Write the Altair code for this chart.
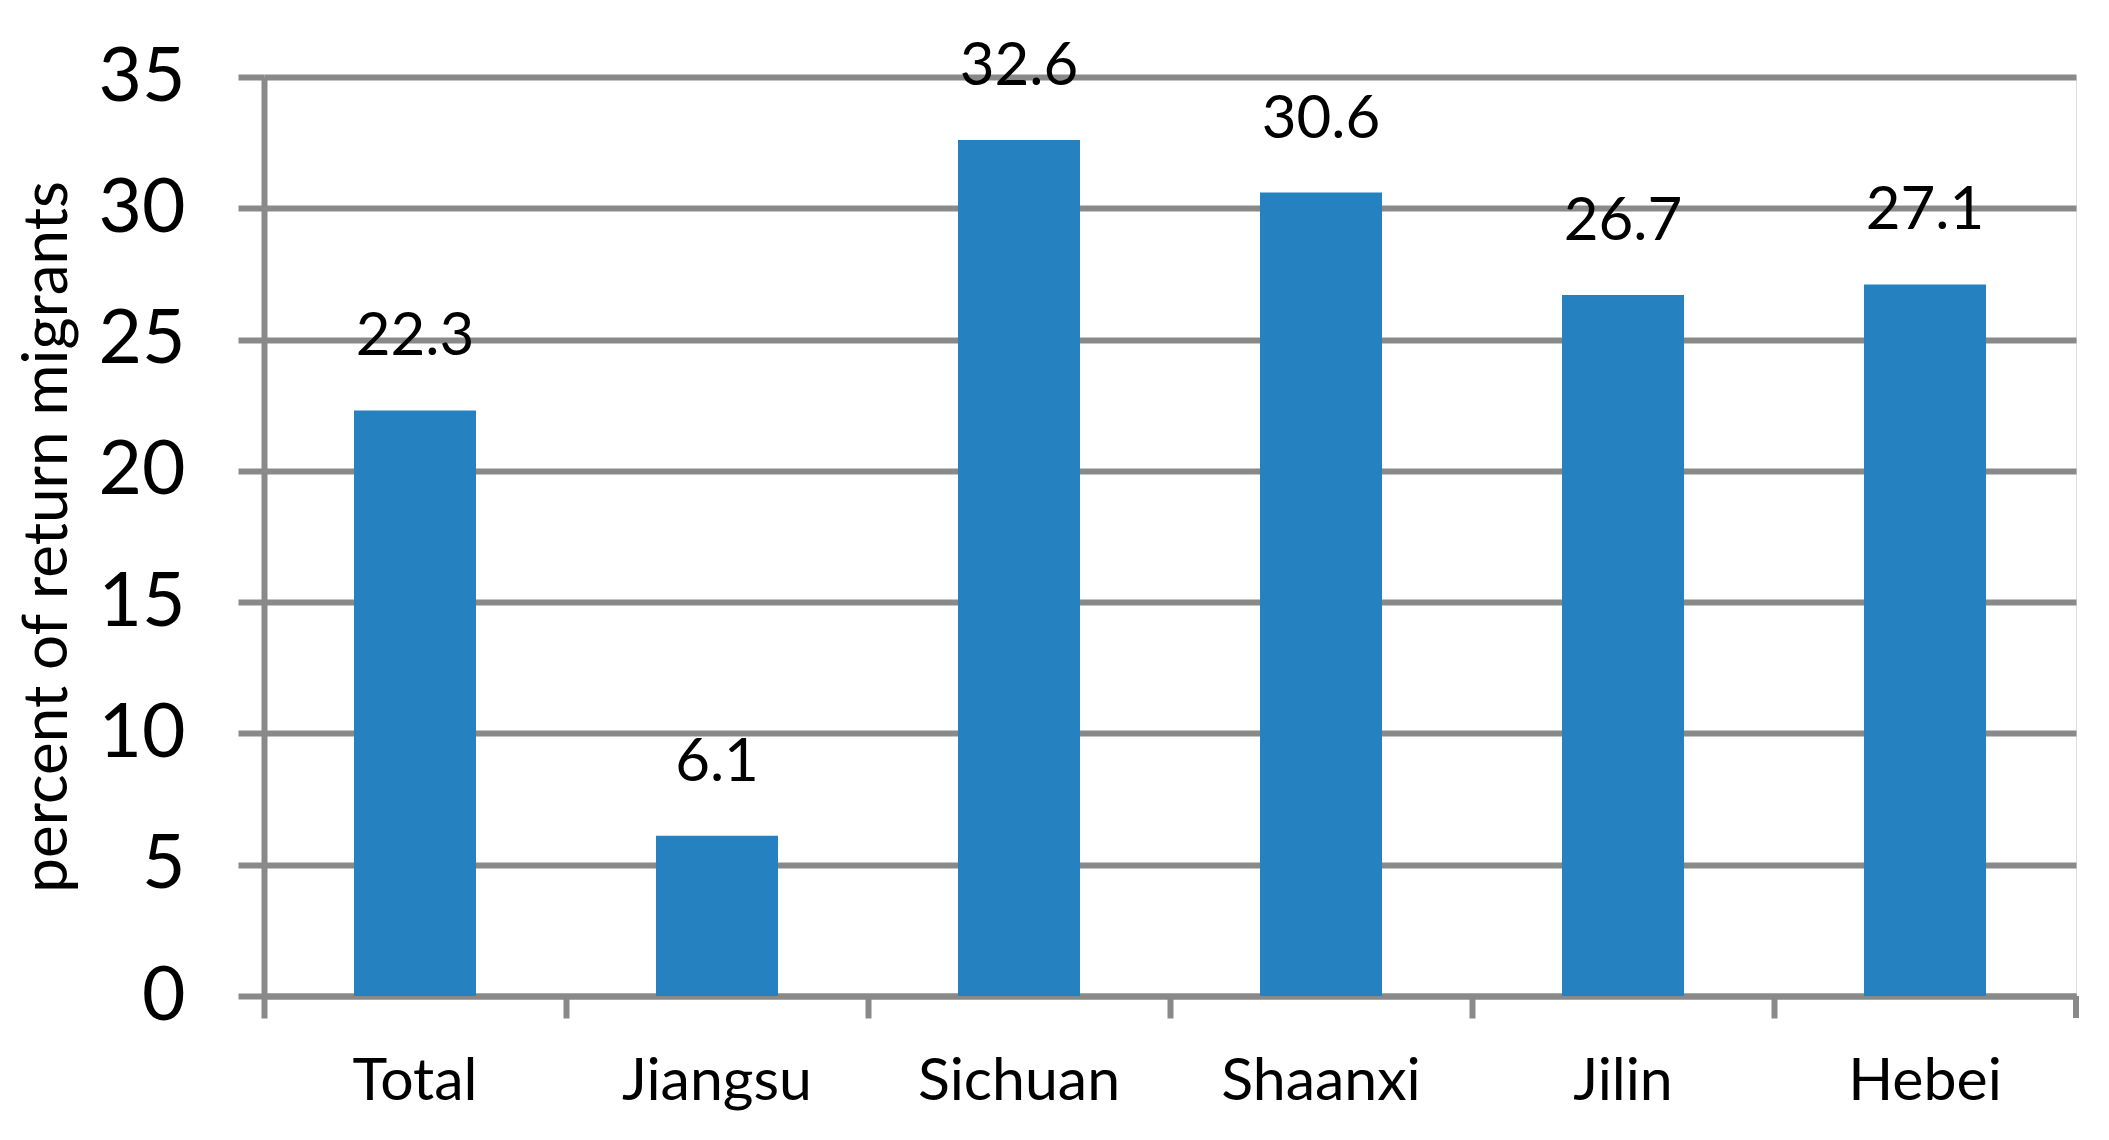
import altair as alt
import pandas as pd

categories = ["Total", "Jiangsu", "Sichuan", "Shaanxi", "Jilin", "Hebei"]
values = [22.3, 6.1, 32.6, 30.6, 26.7, 27.1]
y_ticks = [0, 5, 10, 15, 20, 25, 30, 35]

df = pd.DataFrame({"region": categories, "pct": values})

W, H = 1812, 919
GRAY = "#898989"
FONT = "Lato"

x_enc = alt.X(
    "region:N",
    sort=categories,
    scale=alt.Scale(paddingInner=0, paddingOuter=0),
    axis=alt.Axis(
        title=None,
        labelAngle=0,
        labelFont=FONT,
        labelFontSize=59,
        labelColor="black",
        labelPadding=34,
        labelLimit=0,
        bandPosition=0,
        tickSize=22,
        tickWidth=6,
        tickColor=GRAY,
        domainColor=GRAY,
        domainWidth=6,
        grid=False,
    ),
)

y_enc = alt.Y(
    "pct:Q",
    scale=alt.Scale(domain=[0, 35], nice=False),
    axis=alt.Axis(
        title="percent of return migrants",
        values=y_ticks,
        titleFont=FONT,
        titleFontSize=62,
        titleFontWeight="normal",
        titleColor="black",
        titleAngle=-90,
        titleAlign="center",
        titleBaseline="alphabetic",
        titleX=-198,
        titleY=H / 2,
        labelFont=FONT,
        labelFontSize=75,
        labelColor="black",
        labelPadding=53,
        tickSize=26,
        tickWidth=6,
        tickColor=GRAY,
        domainColor=GRAY,
        domainWidth=6,
        grid=True,
        gridColor=GRAY,
        gridWidth=6,
    ),
)

bars = alt.Chart(df).mark_bar(
    color="#2581C0", width=alt.RelativeBandSize(0.404)
).encode(x=x_enc, y=y_enc)

labels = alt.Chart(df).mark_text(
    font=FONT, fontSize=60, color="black", baseline="alphabetic", dy=-55
).encode(
    x=alt.X("region:N", sort=categories),
    y=alt.Y("pct:Q"),
    text=alt.Text("pct:Q", format=".1f"),
)

end_tick = alt.Chart(df).mark_rule(color=GRAY, strokeWidth=6).encode(
    x=alt.value(W), y=alt.value(H), y2=alt.value(H + 22)
)

chart = (
    alt.layer(bars, labels, end_tick)
    .properties(
        width=W,
        height=H,
        autosize=alt.AutoSizeParams(type="none"),
        padding={"left": 256, "top": 69, "right": 20, "bottom": 120},
    )
    .configure_view(stroke=None)
    .configure(background="white")
)

chart.save("out.html", embed_options={"renderer": "svg", "actions": False})
